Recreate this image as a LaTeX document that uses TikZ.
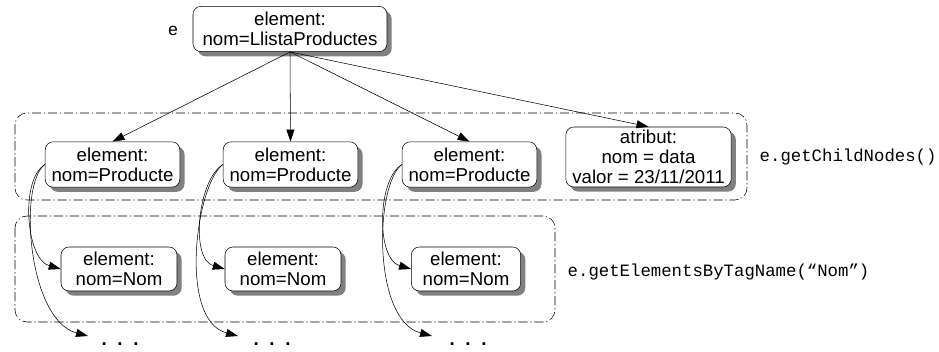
\documentclass[tikz,border=0pt]{standalone}
\usepackage{fontspec}
\setmainfont{Liberation Sans}
\setmonofont{Liberation Mono}
\usetikzlibrary{arrows.meta,shadows}

\begin{document}
\begin{tikzpicture}[x=0.75pt, y=-0.75pt,
		caixa/.style={draw, thin, rounded corners=6pt, fill=white, align=center, inner sep=1pt,
			font=\fontsize{14}{15}\selectfont,
			drop shadow={shadow xshift=3.5pt, shadow yshift=-3.5pt, fill=black!50, opacity=1}},
		grup/.style={thin, black, rounded corners=9pt, dash pattern=on 7pt off 2pt on 1pt off 2pt},
		fletxa/.style={-{Triangle[length=9pt,width=6pt]}, thin},
		metode/.style={font=\ttfamily\fontsize{13}{15}\selectfont, anchor=west},
		punts/.style={font=\bfseries\fontsize{14}{15}\selectfont}]
	\useasboundingbox (0,0) rectangle (939,351);
	
	%--- grups
	\draw[grup] (15,113) rectangle (747,200);
	\draw[grup] (15,216) rectangle (555,322);
	
	%--- element arrel
	\node[caixa, minimum width=145.5pt, minimum height=34pt] (arrel) at (290,29) {element:\\nom=LlistaProductes};
	\node[font=\ttfamily\fontsize{13}{15}\selectfont] (e) at (173,31) {e};
	
	%--- fills
	\node[caixa, minimum width=101pt, minimum height=34pt] (p1) at (112.5,164.5) {element:\\nom=Producte};
	\node[caixa, minimum width=101pt, minimum height=34pt] (p2) at (290.5,164.5) {element:\\nom=Producte};
	\node[caixa, minimum width=101pt, minimum height=34pt] (p3) at (469.5,164.5) {element:\\nom=Producte};
	\node[caixa, minimum width=124pt, minimum height=45pt] (atr) at (648.5,157) {atribut:\\nom = data\\valor = 23/11/2011};
	
	%--- néts
	\node[caixa, minimum width=87pt, minimum height=33pt] (n1) at (119,269) {element:\\nom=Nom};
	\node[caixa, minimum width=87pt, minimum height=33pt] (n2) at (283,269) {element:\\nom=Nom};
	\node[caixa, minimum width=82pt, minimum height=33pt] (n3) at (466,269) {element:\\nom=Nom};
	
	\node[punts] (d1) at (120,344) {.\hspace{8pt}.\hspace{8pt}.};
	\node[punts] (d2) at (272,344) {.\hspace{8pt}.\hspace{8pt}.};
	\node[punts] (d3) at (468,344) {.\hspace{8pt}.\hspace{8pt}.};
	\coordinate (f1) at (88,336);
	\coordinate (f2) at (238,336);
	\coordinate (f3) at (432,336);
	
	%--- metodes
	\node[metode] (fills) at (755,157) {e.getChildNodes()};
	\node[metode] (tag) at (563,272) {e.getElementsByTagName(“Nom”)};
	
	%--- connexions
	\foreach \p in {p1,p2,p3,atr}
		\draw[fletxa] (arrel.south) -- (\p.north);
	\foreach \i in {1,2,3}{
		\draw[fletxa] (p\i.west) .. controls +(-25,15) and +(-35,-10) .. (n\i.west);
		\draw[fletxa] (p\i.west) .. controls +(-27,20) and +(-60,-16) .. (f\i);
	}
\end{tikzpicture}
\end{document}
